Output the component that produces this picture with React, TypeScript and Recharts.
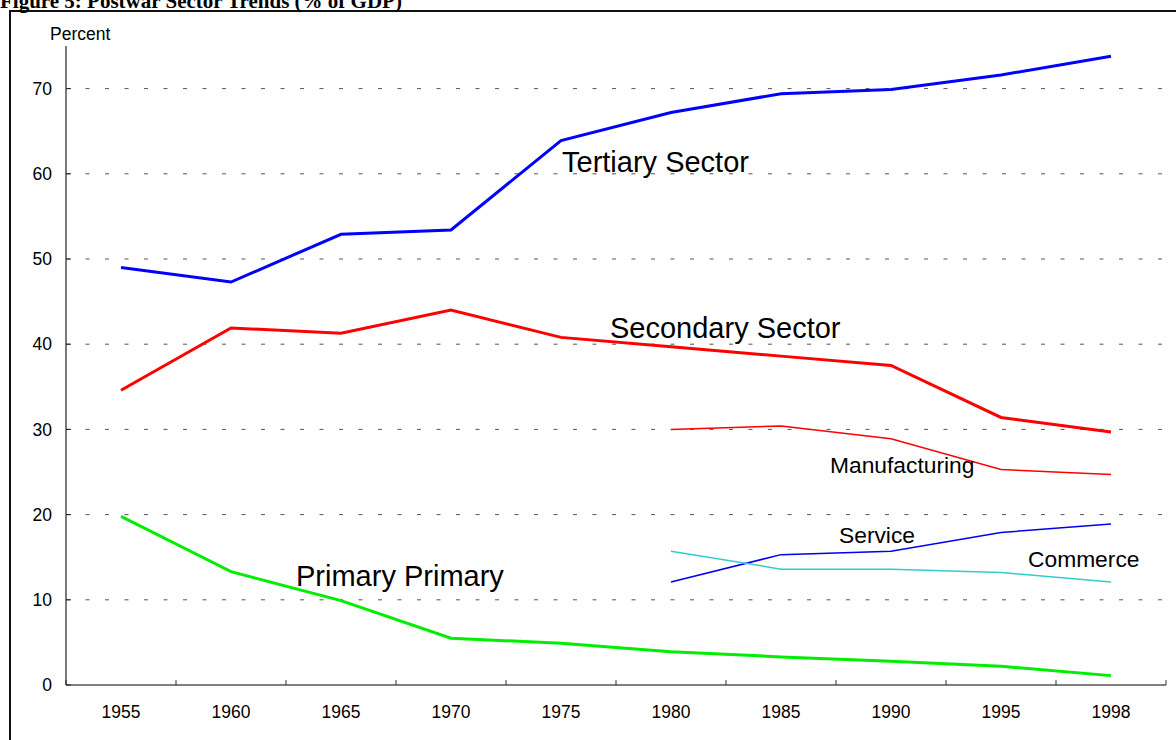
import React from 'react';
import { LineChart, Line, XAxis, YAxis, ReferenceLine, ReferenceDot } from 'recharts';

const years = ['1955', '1960', '1965', '1970', '1975', '1980', '1985', '1990', '1995', '1998'];
const tertiary = [49.0, 47.3, 52.9, 53.4, 63.9, 67.2, 69.4, 69.9, 71.6, 73.8];
const secondary = [34.6, 41.9, 41.3, 44.0, 40.8, 39.7, 38.6, 37.5, 31.4, 29.7];
const primary = [19.8, 13.3, 9.9, 5.5, 4.9, 3.9, 3.3, 2.8, 2.2, 1.1];
const manufacturing = [null, null, null, null, null, 30.0, 30.4, 28.9, 25.3, 24.7];
const service = [null, null, null, null, null, 12.1, 15.3, 15.7, 17.9, 18.9];
const commerce = [null, null, null, null, null, 15.7, 13.6, 13.6, 13.2, 12.1];
const yTicks = [0, 10, 20, 30, 40, 50, 60, 70];

const data = years.map((year, i) => ({
  year,
  tertiary: tertiary[i],
  secondary: secondary[i],
  primary: primary[i],
  manufacturing: manufacturing[i],
  service: service[i],
  commerce: commerce[i],
}));

const FONT = '"Liberation Sans", Arial, sans-serif';
const HALF_BAND = 55;
const TICK_SIZE = 6;
const TICK_MARGIN = 15;

const annotations = [
  { text: 'Tertiary Sector', year: '1975', value: 60.25, dx: 1, size: 29 },
  { text: 'Secondary Sector', year: '1980', value: 40.75, dx: -61, size: 29 },
  { text: 'Primary Primary', year: '1960', value: 11.63, dx: 65, size: 29 },
  { text: 'Manufacturing', year: '1990', value: 24.9, dx: -61, size: 22.8 },
  { text: 'Service', year: '1990', value: 16.68, dx: -52, size: 22.8 },
  { text: 'Commerce', year: '1995', value: 13.86, dx: 27, size: 22.8 },
];

const YearTick = (props: any) => {
  const { x, y, payload, index } = props;
  const axisY = y - TICK_SIZE - TICK_MARGIN;
  const last = index === years.length - 1;
  return (
    <g>
      <line x1={x - HALF_BAND} x2={x - HALF_BAND} y1={axisY} y2={axisY - 5} stroke="#333" strokeWidth={1} />
      {last && <line x1={x + HALF_BAND} x2={x + HALF_BAND} y1={axisY} y2={axisY - 5} stroke="#333" strokeWidth={1} />}
      <text x={x} y={y} dy="0.71em" textAnchor="middle" fontSize={17.5} fontFamily={FONT} fill="#000">
        {payload.value}
      </text>
    </g>
  );
};

export default function App() {
  return (
    <div style={{ position: 'fixed', left: 0, top: 0, width: 1176, height: 740, background: '#fff', overflow: 'hidden' }}>
      <div
        style={{
          position: 'absolute',
          left: 9,
          top: 10,
          width: 1200,
          height: 800,
          borderLeft: '2px solid #111',
          borderTop: '2px solid #111',
          boxSizing: 'border-box',
        }}
      />
      <div style={{ position: 'absolute', left: 0, top: 0 }}>
        <LineChart width={1176} height={740} data={data} margin={{ top: 46, right: 10, bottom: 15, left: 10 }}>
          {yTicks
            .filter((v) => v > 0)
            .map((v) => (
              <ReferenceLine key={v} y={v} stroke="#555" strokeDasharray="4 15.5" strokeWidth={1} />
            ))}
          <XAxis
            dataKey="year"
            height={40}
            padding={{ left: HALF_BAND, right: HALF_BAND }}
            axisLine={{ stroke: '#555', strokeWidth: 1.5 }}
            tickLine={false}
            tickSize={TICK_SIZE}
            tickMargin={TICK_MARGIN}
            tick={<YearTick />}
            interval={0}
          />
          <YAxis
            width={56}
            domain={[0, 75]}
            ticks={yTicks}
            allowDataOverflow
            tickSize={-5}
            tickMargin={19}
            axisLine={{ stroke: '#222', strokeWidth: 1.2 }}
            tickLine={{ stroke: '#222' }}
            tick={{ fontSize: 17.5, fill: '#000', fontFamily: FONT }}
          />
          <Line dataKey="tertiary" stroke="#0000ff" strokeWidth={3} dot={false} isAnimationActive={false} />
          <Line dataKey="secondary" stroke="#ff0000" strokeWidth={3} dot={false} isAnimationActive={false} />
          <Line dataKey="primary" stroke="#00ee00" strokeWidth={3} dot={false} isAnimationActive={false} />
          <Line dataKey="manufacturing" stroke="#ff0000" strokeWidth={1.5} dot={false} isAnimationActive={false} />
          <Line dataKey="service" stroke="#0000ee" strokeWidth={1.5} dot={false} isAnimationActive={false} />
          <Line dataKey="commerce" stroke="#33cccc" strokeWidth={1.5} dot={false} isAnimationActive={false} />
          {annotations.map((a) => (
            <ReferenceDot
              key={a.text}
              x={a.year}
              y={a.value}
              r={1}
              shape={(p: any) => (
                <text x={p.cx + a.dx} y={p.cy} fontSize={a.size} fontFamily={FONT} fill="#000">
                  {a.text}
                </text>
              )}
            />
          ))}
        </LineChart>
      </div>
      <svg width={1176} height={740} style={{ position: 'absolute', left: 0, top: 0, pointerEvents: 'none' }}>
        <text x={0} y={8} fontSize={21} fontWeight="bold" fontFamily='"Liberation Serif", "Times New Roman", serif' fill="#000">
          Figure 5: Postwar Sector Trends (% of GDP)
        </text>
        <text x={50} y={40} fontSize={17.5} fontFamily={FONT} fill="#000">
          Percent
        </text>
      </svg>
    </div>
  );
}
